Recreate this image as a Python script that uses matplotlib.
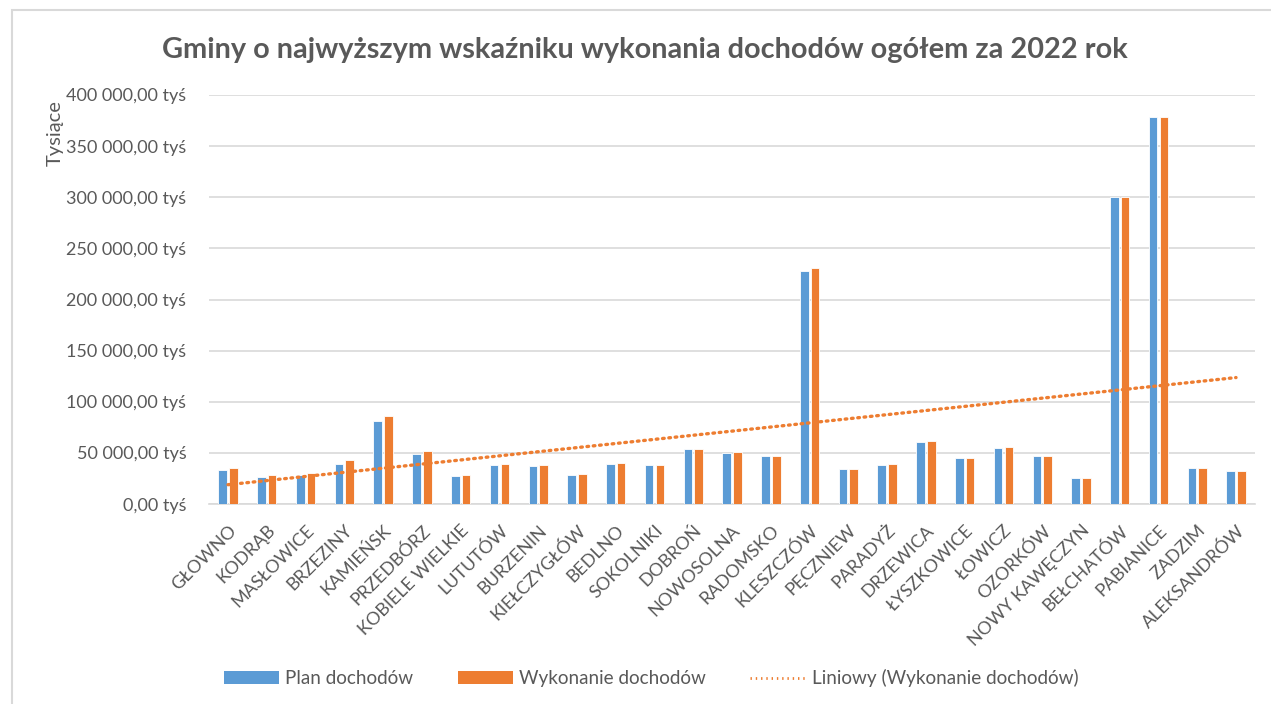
import matplotlib
matplotlib.use("Agg")
import matplotlib.pyplot as plt
import numpy as np
from matplotlib.patches import Rectangle, Patch
from matplotlib.lines import Line2D
from matplotlib.ticker import FuncFormatter, MultipleLocator

categories = ["GŁOWNO", "KODRĄB", "MASŁOWICE", "BRZEZINY", "KAMIEŃSK", "PRZEDBÓRZ",
              "KOBIELE WIELKIE", "LUTUTÓW", "BURZENIN", "KIEŁCZYGŁÓW", "BEDLNO",
              "SOKOLNIKI", "DOBROŃ", "NOWOSOLNA", "RADOMSKO", "KLESZCZÓW", "PĘCZNIEW",
              "PARADYŻ", "DRZEWICA", "ŁYSZKOWICE", "ŁOWICZ", "OZORKÓW", "NOWY KAWĘCZYN",
              "BEŁCHATÓW", "PABIANICE", "ZADZIM", "ALEKSANDRÓW"]
plan = [33250, 26400, 28400, 39100, 81200, 49200, 27400, 38100, 37200, 28400, 39100,
        38100, 53500, 50200, 46900, 228200, 33900, 38100, 61000, 44700, 54500, 46900,
        25100, 300300, 378600, 34900, 32000]
wykonanie = [34900, 28400, 30600, 42700, 85800, 52100, 28400, 39100, 38100, 29600, 40400,
             38100, 53500, 51200, 46900, 231100, 33900, 39100, 61900, 44700, 55700, 46900,
             25100, 300500, 378700, 34900, 32000]
title = "Gminy o najwyższym wskaźniku wykonania dochodów ogółem za 2022 rok"
ylabel = "Tysiące"
legend_labels = ["Plan dochodów", "Wykonanie dochodów", "Liniowy (Wykonanie dochodów)"]

BLUE = "#5B9BD5"
ORANGE = "#ED7D31"
GRID = "#D9D9D9"
TXT = "#595959"

plt.rcParams['font.family'] = ['Lato', 'DejaVu Sans']

fig = plt.figure(figsize=(12.71, 7.04), dpi=100)
W, H = 1271, 704
# chart border
fig.patches.append(Rectangle((12 / W, -0.01), 1.02, 1 - 10 / H + 0.01, transform=fig.transFigure,
                             fill=False, edgecolor="#D9D9D9", lw=1.5))

ax = fig.add_axes([208.6 / W, 1 - 504 / H, (1255.4 - 208.6) / W, (504 - 95) / H])
x = np.arange(len(categories))
bw = 0.222
ax.bar(x - 0.137, plan, width=bw, color=BLUE, edgecolor="white", linewidth=0.6, zorder=3)
ax.bar(x + 0.140, wykonanie, width=bw, color=ORANGE, edgecolor="white", linewidth=0.6, zorder=3)

# linear trendline (Excel style, x = 1..n)
xi = np.arange(1, len(categories) + 1)
k, b = np.polyfit(xi, np.array(wykonanie, dtype=float), 1)
ax.plot(x, k * xi + b, color=ORANGE, lw=2.4, linestyle=(0, (0.5, 1.4)),
        dash_capstyle="round", zorder=4)

ax.set_xlim(-0.5, len(categories) - 0.5)
ax.set_ylim(0, 400000)
ax.yaxis.set_major_locator(MultipleLocator(50000))
ax.yaxis.set_major_formatter(FuncFormatter(
    lambda v, p: f"{v:,.2f}".replace(",", " ").replace(".", ",") + " tyś"))
ax.grid(axis="y", color=GRID, lw=1.2, zorder=0)
for s in ["top", "right", "left"]:
    ax.spines[s].set_visible(False)
ax.spines["bottom"].set_color(GRID)
ax.spines["bottom"].set_linewidth(1.2)
ax.tick_params(axis="both", length=0, colors=TXT, labelsize=13)
ax.tick_params(axis="y", pad=16)
ax.set_xticks(x)
ax.set_xticklabels(categories, rotation=45, ha="right", rotation_mode="anchor")
ax.tick_params(axis="x", pad=13)

fig.text(55 / W, 1 - 133 / H, ylabel, rotation=90, ha="center", va="center",
         color=TXT, fontsize=14.5)
fig.text(645 / W, 1 - 50 / H, title, ha="center", va="center", color=TXT,
         fontsize=20.8, fontweight="bold")

handles = [Patch(facecolor=BLUE, edgecolor="none"),
           Patch(facecolor=ORANGE, edgecolor="none"),
           Line2D([0], [0], color=ORANGE, lw=2, linestyle=(0, (0.5, 1.4)))]
leg = fig.legend(handles, legend_labels, loc="center", bbox_to_anchor=(651 / W, 1 - 678 / H),
                 ncol=3, frameon=False, fontsize=13.6, labelcolor=TXT,
                 handlelength=2.95, handleheight=0.65, handletextpad=0.3, columnspacing=2.35)

fig.savefig("out.png", dpi=100)
